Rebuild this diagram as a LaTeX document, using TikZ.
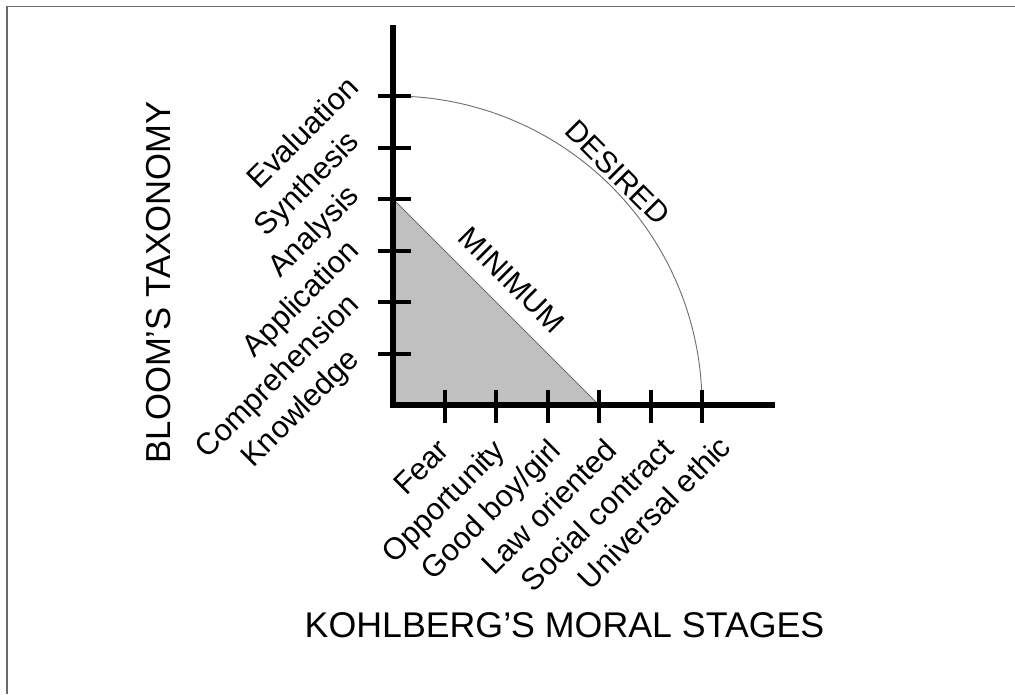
\documentclass[tikz,border=0pt]{standalone}
\usepackage{fontspec}
\setmainfont{Liberation Sans}
\definecolor{framegray}{HTML}{6A6A6A}
\definecolor{fillgray}{HTML}{C0C0C0}
\definecolor{linegray}{HTML}{707070}
\begin{document}
\begin{tikzpicture}[x=0.75pt,y=-0.75pt,
  axisline/.style={line width=4pt, line join=miter},
  tickline/.style={line width=3pt},
  thinline/.style={draw=linegray, line width=0.7pt},
  lbl/.style={font=\fontsize{23}{27}\selectfont, inner sep=0pt, rotate=45, anchor=base east},
  zonelbl/.style={font=\fontsize{22.5}{27}\selectfont, inner sep=0pt, rotate=-45},
  titlelbl/.style={font=\fontsize{26}{31}\selectfont, inner sep=0pt}]
\useasboundingbox (0,0) rectangle (1015,694);
% frame (top and left edges only)
\draw[framegray, line width=1.1pt] (7,694) -- (7,6.5) -- (1015,6.5);
% key points
\coordinate (O) at (393,405);
\coordinate (Ytop) at (393,25);
\coordinate (Xend) at (775,405);
\coordinate (Y3) at (393,199);
\coordinate (X4) at (599,405);
% minimum zone
\fill[fillgray] (O) -- (Y3) -- (X4) -- cycle;
\draw[thinline] (Y3) -- (X4);
% desired arc
\draw[thinline] plot[domain=0:90, samples=90] ({393+309*cos(\x)},{405-309*sin(\x)});
% axes
\draw[axisline] (Ytop) -- (O) -- (Xend);
% ticks
\foreach \k in {1,...,6} {
  \draw[tickline] (377.5,405-51.5*\k) -- (410.5,405-51.5*\k);
  \draw[tickline] (393+51.5*\k,389.5) -- (393+51.5*\k,422.5);
}
% y-axis labels
\node[lbl] (eval) at (361,89) {Evaluation};
\node[lbl] (synth) at (361,143.4) {Synthesis};
\node[lbl] (anal) at (361,197.8) {Analysis};
\node[lbl] (appl) at (361,252.2) {Application};
\node[lbl] (comp) at (361,306.6) {Comprehension};
\node[lbl] (know) at (361,361) {Knowledge};
% x-axis labels
\node[lbl] (fear) at (451,452) {Fear};
\node[lbl] (opp) at (507,452) {Opportunity};
\node[lbl] (good) at (563,452) {Good boy/girl};
\node[lbl] (law) at (619,452) {Law oriented};
\node[lbl] (soc) at (676,451) {Social contract};
\node[lbl] (univ) at (733,449) {Universal ethic};
% zone labels
\node[zonelbl] (minimum) at (511.7,280) {MINIMUM};
\node[zonelbl] (desired) at (617.5,172.5) {DESIRED};
% axis titles
\node[titlelbl, rotate=90] (bloom) at (158.9,282.5) {BLOOM’S TAXONOMY};
\node[titlelbl, font=\fontsize{26.8}{31}\selectfont] (kohl) at (564.5,625) {KOHLBERG’S MORAL STAGES};
\end{tikzpicture}
\end{document}
